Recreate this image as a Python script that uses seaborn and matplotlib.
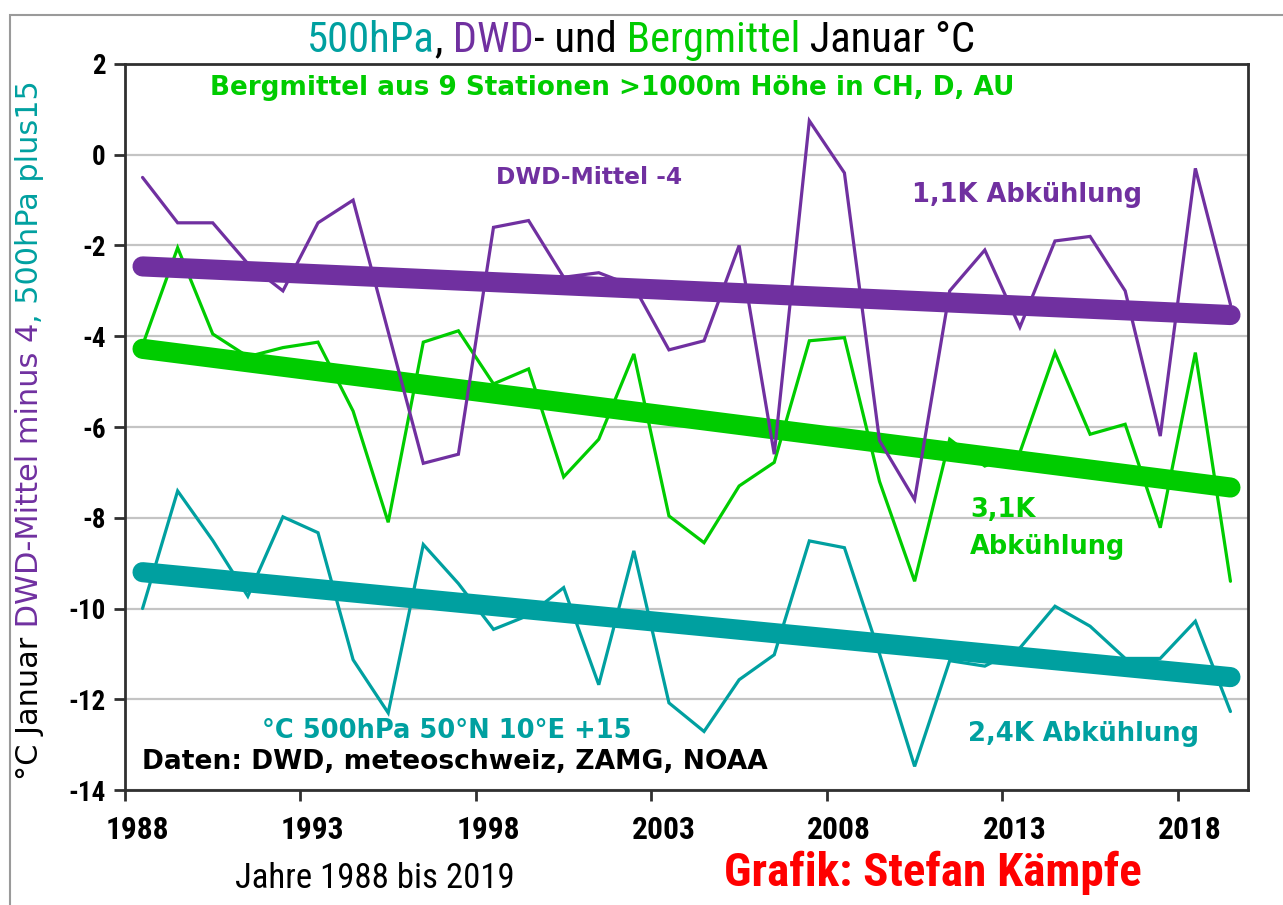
import os
import matplotlib
matplotlib.use("Agg")
import matplotlib.pyplot as plt
import matplotlib.transforms as mtransforms
from matplotlib import font_manager as fm
from matplotlib.font_manager import FontProperties
from matplotlib.patches import Rectangle
import seaborn as sns
import numpy as np
import pandas as pd

# ---------------- data ----------------
years = list(range(1988, 2020))
dwd_minus4 = [-0.5, -1.5, -1.5, -2.4, -3.0, -1.5, -1.0, -3.9, -6.8, -6.6,
              -1.6, -1.45, -2.7, -2.6, -2.9, -4.3, -4.1, -2.0, -6.6, 0.75,
              -0.4, -6.3, -7.6, -3.0, -2.1, -3.8, -1.9, -1.8, -3.0, -6.2,
              -0.3, -3.3]
bergmittel = [-4.2, -2.05, -3.95, -4.45, -4.25, -4.13, -5.65, -8.1, -4.13, -3.88,
              -5.05, -4.72, -7.1, -6.27, -4.39, -7.96, -8.55, -7.3, -6.78, -4.1,
              -4.03, -7.2, -9.4, -6.27, -6.86, -6.56, -4.36, -6.16, -5.94, -8.22,
              -4.36, -9.4]
hpa500_plus15 = [-10.0, -7.41, -8.5, -9.73, -7.98, -8.33, -11.13, -12.3, -8.59, -9.45,
                 -10.46, -10.15, -9.54, -11.68, -8.73, -12.08, -12.71, -11.57, -11.02, -8.51,
                 -8.66, -11.0, -13.48, -11.15, -11.27, -10.87, -9.95, -10.39, -11.1, -11.1,
                 -10.28, -12.27]
xtick_years = [1988, 1993, 1998, 2003, 2008, 2013, 2018]
ytick_vals = [2, 0, -2, -4, -6, -8, -10, -12, -14]

PURPLE = "#7030A0"
GREEN = "#00CC00"
TEAL = "#00A0A0"
RED = "#FF0000"

sns.set_theme(style="white")
plt.rcParams["font.family"] = ["DejaVu Sans"]


# ---------------- find a condensed (narrow) font ----------------
def _wnum(w):
    if isinstance(w, (int, float)):
        return w
    return fm.weight_dict.get(str(w).lower(), 400)


def pick_narrow(bold):
    best, best_score = None, -1e9
    for f in fm.fontManager.ttflist:
        n = (f.name + " " + os.path.basename(f.fname)).lower()
        st = f.stretch
        if isinstance(st, str):
            cond = "condensed" in st.lower() and "expanded" not in st.lower()
        else:
            cond = st < 500
        cond = cond or "narrow" in n or "condensed" in n
        if not cond:
            continue
        if "italic" in n or "oblique" in n or str(f.style).lower() != "normal":
            continue
        w = _wnum(f.weight)
        if bold and w < 600:
            continue
        if (not bold) and w >= 600:
            continue
        score = 0
        if "liberation sans narrow" in n or "liberationsansnarrow" in n:
            score += 100
        elif "arial narrow" in n or "arialn" in n:
            score += 95
        elif "roboto condensed" in n or "robotocondensed" in n:
            score += 80
        elif "noto sans" in n or "notosans" in n:
            score += 75
        elif "dejavu" in n:
            score += 70
        else:
            score += 40
        if "extra" in n or "ultra" in n:
            score -= 40
        if "semi" in n:
            score -= 15
        if "mono" in n:
            score -= 60
        score -= abs(w - (700 if bold else 400)) / 50.0
        if score > best_score:
            best, best_score = f.fname, score
    return best


NARROW_R = pick_narrow(False)
NARROW_B = pick_narrow(True)


def fp_narrow(bold, size):
    path = NARROW_B if bold else NARROW_R
    if path:
        return FontProperties(fname=path, size=size)
    return FontProperties(family="DejaVu Sans", weight="bold" if bold else "normal",
                          size=size)


def fp_wide(bold, size):
    return FontProperties(family="DejaVu Sans", weight="bold" if bold else "normal",
                          size=size)


W, H = 1283, 905
fig = plt.figure(figsize=(W / 100, H / 100), dpi=100)
fig.patch.set_facecolor("white")
renderer = fig.canvas.get_renderer()


def size_for(s, maker, bold, target_w, base=20.0):
    t = fig.text(0, 0, s, fontproperties=maker(bold, base))
    w = t.get_window_extent(renderer).width
    t.remove()
    return base * target_w / w


# outer grey frame
fig.patches.append(Rectangle((10 / W, -0.1), 1.2, 1 - 15 / H + 0.1,
                             transform=fig.transFigure, fill=False,
                             edgecolor="#9a9a9a", lw=1.5))

ax = fig.add_axes([125 / W, (H - 790) / H, (1248 - 125) / W, (790 - 64) / H])

xpos = np.array(years) + 0.5
series = [("500hPa", hpa500_plus15, TEAL),
          ("Bergmittel", bergmittel, GREEN),
          ("DWD", dwd_minus4, PURPLE)]

for name, vals, col in series:
    d = pd.DataFrame({"x": xpos, "v": vals})
    sns.lineplot(data=d, x="x", y="v", color=col, lw=2.3, ax=ax,
                 solid_joinstyle="miter")
    sns.regplot(x=xpos, y=np.array(vals), scatter=False, ci=None, color=col,
                line_kws=dict(lw=14.5, solid_capstyle="round"), ax=ax)

ax.set_xlim(1988, 2020)
ax.set_ylim(-14, 2)
ax.set_xlabel("")
ax.set_ylabel("")
ax.yaxis.grid(True, color="#c4c4c4", lw=1.6)
ax.xaxis.grid(False)
ax.set_axisbelow(True)
for s in ax.spines.values():
    s.set_color("#303030")
    s.set_linewidth(2)
ax.tick_params(axis="both", direction="out", length=8, width=2, color="#303030",
               labelcolor="black", left=True, bottom=True)
ax.tick_params(axis="y", pad=6)
ax.tick_params(axis="x", pad=10)

sx = size_for("1988", fp_narrow, True, 64)
sy = size_for("-14", fp_narrow, True, 37)
ax.set_xticks(xtick_years)
ax.set_xticklabels([str(y) for y in xtick_years], fontproperties=fp_narrow(True, sx))
ax.set_yticks(ytick_vals)
ax.set_yticklabels([str(v) for v in ytick_vals], fontproperties=fp_narrow(True, sy))
off = mtransforms.ScaledTranslation(12 / 100, 0, fig.dpi_scale_trans)
for lab in ax.get_xticklabels():
    lab.set_transform(lab.get_transform() + off)

# ---------------- title (multi-coloured) ----------------
pieces = [("500hPa", TEAL), (",", "black"), (" DWD", PURPLE), ("- und", "black"),
          (" Bergmittel", GREEN), (" Januar °C", "black")]
st = size_for("".join(p for p, _ in pieces), fp_narrow, False, 667)
tfp = fp_narrow(False, st)
TY = 1 - 61 / H
t0 = fig.text(308 / W, TY, pieces[0][0], color=pieces[0][1],
              ha="left", va="bottom", fontproperties=tfp)
t = t0
tlast = t0
for txt, col in pieces[1:]:
    t = ax.annotate(txt, xy=(1, 0), xycoords=t, ha="left", va="bottom", color=col,
                    annotation_clip=False, fontproperties=tfp)
    tlast = t
fig.canvas.draw()
x_l = t0.get_window_extent(renderer).x0
x_r = tlast.get_window_extent(renderer).x1
shift = (641 - (x_l + x_r) / 2) / W
t0.set_position((308 / W + shift, TY))

# ---------------- y label (multi-coloured, rotated) ----------------
ypieces = [("°C Januar", "black"), (" DWD-Mittel minus 4", PURPLE),
           (", 500hPa plus15", TEAL)]
sl = size_for("".join(p for p, _ in ypieces), fp_wide, False, 700)
yfp = fp_wide(False, sl)
y0 = fig.text(15 / W, 1 - 786 / H, ypieces[0][0], color=ypieces[0][1],
              ha="left", va="bottom", rotation=90, fontproperties=yfp)
t = y0
for txt, col in ypieces[1:]:
    t = ax.annotate(txt, xy=(0, 1), xycoords=t, ha="left", va="bottom",
                    color=col, rotation=90, annotation_clip=False, fontproperties=yfp)
ylast = t
fig.canvas.draw()
yb = y0.get_window_extent(renderer).y0
yt = ylast.get_window_extent(renderer).y1
yshift = ((H - 430) - (yb + yt) / 2) / H
y0.set_position((15 / W, 1 - 786 / H + yshift))


# ---------------- in-plot annotations ----------------
def ftext(px, py, s, col, target_w, ha="left", size=None):
    if size is None:
        size = size_for(s, fp_wide, True, target_w)
    fig.text(px / W, 1 - py / H, s, color=col, ha=ha, va="center",
             fontproperties=fp_wide(True, size))
    return size


ftext(612, 88, "Bergmittel aus 9 Stationen >1000m Höhe in CH, D, AU", GREEN, 805, ha="center")
ftext(1027, 195, "1,1K Abkühlung", PURPLE, 231, ha="center")
ftext(589, 178, "DWD-Mittel -4", PURPLE, 186, ha="center")
s31 = ftext(970, 547, "Abkühlung", GREEN, 155)
ftext(970, 510, "3,1K", GREEN, 0, size=s31)
ftext(447, 731, "°C 500hPa 50°N 10°E +15", TEAL, 370, ha="center")
ftext(1084, 734, "2,4K Abkühlung", TEAL, 232, ha="center")
ftext(455, 762, "Daten: DWD, meteoschweiz, ZAMG, NOAA", "black", 624, ha="center")

sj = size_for("Jahre 1988 bis 2019", fp_narrow, False, 279)
fig.text(375 / W, 1 - 878 / H, "Jahre 1988 bis 2019", color="black", ha="center",
         va="center", fontproperties=fp_narrow(False, sj))
sg = size_for("Grafik: Stefan Kämpfe", fp_narrow, True, 417)
fig.text(933 / W, 1 - 873 / H, "Grafik: Stefan Kämpfe", color=RED, ha="center",
         va="center", fontproperties=fp_narrow(True, sg))

fig.savefig("out.png", dpi=100, facecolor="white")
